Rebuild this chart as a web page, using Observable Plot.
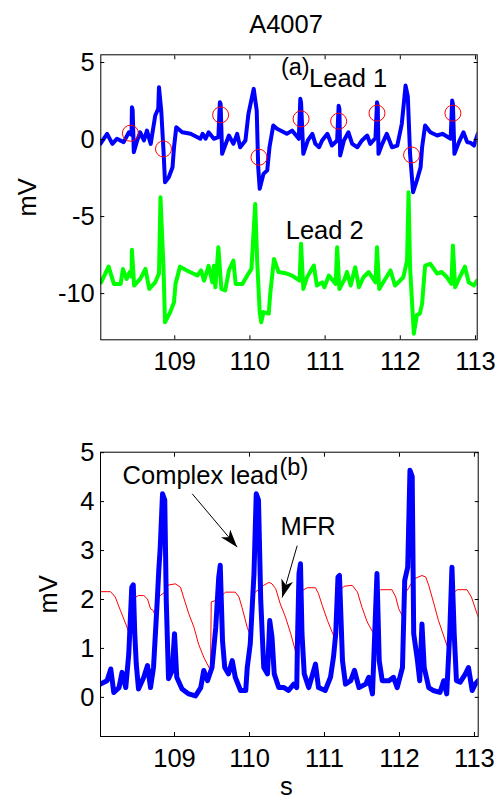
<!DOCTYPE html>
<html><head><meta charset="utf-8">
<script src="https://cdn.jsdelivr.net/npm/d3@7"></script>
<script src="https://cdn.jsdelivr.net/npm/@observablehq/plot@0.6"></script>
<style>
html,body{margin:0;padding:0;background:#fff;}
#chart{width:499px;height:801px;}
#chart svg{display:block;background:#fff;}
</style></head><body><div id="chart"></div>
<script>
// ---------- data ----------
const title = "A4007";
const xLabel = "s";
const yLabel = "mV";
const xTicks = [109, 110, 111, 112, 113];
const yTicksTop = [-10, -5, 0, 5];
const yTicksBottom = [0, 1, 2, 3, 4, 5];

// Lead 1 (blue), [s, mV]
const lead1 = [
[108.01,-0.28],[108.10,0.37],[108.17,-0.28],[108.23,0.05],[108.32,-0.17],[108.39,0.47],[108.425,0.3],[108.43,2.1],[108.44,1.9],[108.455,-0.82],[108.50,-0.06],[108.54,0.47],[108.59,-0.06],[108.63,0.58],[108.68,-0.28],[108.74,1.56],[108.78,2.0],[108.79,3.4],[108.82,1.88],[108.85,-0.71],[108.87,-2.77],[108.92,-2.45],[108.97,-1.8],[108.99,-0.5],[109.02,0.8],[109.10,0.47],[109.21,0.37],[109.34,0.05],[109.37,0.37],[109.41,0.05],[109.45,0.47],[109.52,0.05],[109.58,0.15],[109.60,2.42],[109.61,2.3],[109.63,-0.93],[109.67,-0.39],[109.72,0.26],[109.78,-0.28],[109.83,0.37],[109.87,-0.5],[109.94,-0.06],[109.98,1.67],[110.05,3.29],[110.09,1.88],[110.11,-1.8],[110.13,-3.2],[110.18,-2.23],[110.23,-2.0],[110.26,-0.5],[110.31,0.91],[110.36,0.7],[110.49,0.37],[110.56,0.58],[110.65,0.05],[110.67,2.64],[110.68,2.4],[110.71,-0.93],[110.77,-0.06],[110.83,0.37],[110.87,-0.28],[110.92,-0.5],[110.96,-0.06],[111.03,0.37],[111.09,-0.39],[111.16,-0.06],[111.18,2.2],[111.19,2.0],[111.20,-1.04],[111.25,-0.06],[111.31,0.47],[111.36,-0.28],[111.43,-0.5],[111.49,-0.06],[111.56,0.26],[111.60,-0.28],[111.67,0.1],[111.69,2.42],[111.70,2.2],[111.71,-0.93],[111.76,-0.28],[111.82,0.37],[111.89,-0.5],[111.96,-0.39],[112.02,1.02],[112.05,2.5],[112.07,3.5],[112.10,2.8],[112.13,-0.93],[112.17,-3.42],[112.22,-2.66],[112.27,-1.8],[112.29,-0.5],[112.33,0.91],[112.40,0.47],[112.49,0.26],[112.56,0.37],[112.67,0.05],[112.69,2.53],[112.70,2.3],[112.72,-0.93],[112.78,-0.17],[112.84,0.47],[112.89,-0.17],[112.93,-0.2],[112.98,-0.39],[113.03,0.37]
];

// Lead 2 (green), [s, mV]
const lead2 = [
[108.02,-9.27],[108.12,-8.25],[108.19,-9.37],[108.28,-9.37],[108.31,-8.4],[108.36,-9.05],[108.40,-8.6],[108.425,-8.9],[108.43,-7.16],[108.46,-9.48],[108.54,-9.05],[108.61,-8.4],[108.66,-9.7],[108.74,-9.27],[108.79,-8.7],[108.81,-3.75],[108.85,-8.29],[108.87,-11.86],[108.94,-11.2],[108.99,-10.56],[109.01,-9.37],[109.07,-8.25],[109.16,-8.5],[109.30,-8.83],[109.35,-8.5],[109.39,-9.16],[109.45,-8.2],[109.50,-9.27],[109.52,-8.2],[109.54,-9.59],[109.58,-6.99],[109.62,-9.7],[109.67,-9.8],[109.70,-9.05],[109.72,-8.5],[109.78,-7.86],[109.81,-9.37],[109.90,-9.37],[109.98,-8.7],[110.02,-8.4],[110.07,-4.18],[110.096,-7.86],[110.13,-11.2],[110.15,-11.86],[110.18,-11.2],[110.25,-11.3],[110.27,-10.0],[110.32,-7.75],[110.38,-8.6],[110.49,-8.7],[110.56,-8.83],[110.66,-9.16],[110.68,-6.77],[110.71,-9.7],[110.76,-8.94],[110.85,-8.18],[110.89,-9.48],[110.96,-9.27],[110.99,-9.59],[111.05,-8.83],[111.14,-9.37],[111.16,-6.99],[111.19,-9.7],[111.26,-9.05],[111.29,-8.6],[111.34,-9.48],[111.40,-8.29],[111.45,-9.59],[111.51,-8.94],[111.58,-8.6],[111.67,-9.27],[111.69,-6.99],[111.72,-9.7],[111.80,-9.05],[111.87,-8.5],[111.93,-9.48],[112.04,-8.94],[112.09,-7.86],[112.11,-3.42],[112.13,-8.29],[112.16,-10.9],[112.18,-12.6],[112.22,-11.4],[112.26,-11.3],[112.29,-10.67],[112.33,-8.18],[112.40,-8.07],[112.49,-8.7],[112.55,-8.6],[112.62,-8.94],[112.68,-9.37],[112.70,-6.88],[112.73,-9.59],[112.79,-8.94],[112.86,-8.25],[112.91,-9.27],[112.98,-9.48],[113.02,-9.16]
];

// detected points (red circles) on Lead 1, [s, mV]
const detected = [
[108.41,0.41],[108.85,-0.61],[109.61,1.6],[110.12,-1.15],[110.68,1.34],[111.18,1.19],[111.69,1.71],[112.15,-1.0],[112.70,1.71]
];

// Complex lead (blue), [s, mV]
const complexLead = [
[108.013,0.27],[108.10,0.34],[108.15,0.58],[108.19,0.10],[108.26,0.20],[108.30,0.51],[108.35,0.20],[108.39,0.89],[108.43,2.25],[108.45,2.3],[108.47,1.30],[108.49,0.68],[108.52,0.17],[108.59,0.41],[108.64,0.65],[108.68,0.20],[108.72,0.61],[108.77,1.98],[108.79,2.59],[108.81,3.07],[108.84,4.16],[108.87,4.03],[108.89,1.98],[108.92,0.38],[108.97,0.55],[109.00,1.30],[109.03,0.41],[109.10,0.17],[109.19,0.07],[109.28,0.03],[109.35,0.20],[109.39,0.55],[109.44,0.34],[109.50,0.61],[109.55,1.43],[109.59,2.46],[109.61,2.70],[109.64,1.16],[109.67,0.61],[109.72,0.48],[109.77,0.75],[109.81,0.41],[109.88,0.14],[109.95,0.14],[109.97,0.61],[110.01,1.09],[110.06,2.53],[110.09,4.16],[110.12,4.03],[110.15,1.98],[110.19,0.61],[110.24,0.48],[110.27,1.57],[110.30,1.23],[110.33,0.48],[110.39,0.20],[110.46,0.20],[110.52,0.14],[110.59,0.27],[110.63,0.20],[110.64,1.16],[110.66,2.53],[110.68,2.73],[110.70,1.30],[110.73,0.48],[110.79,0.20],[110.83,0.41],[110.88,0.68],[110.92,0.20],[111.01,0.14],[111.08,0.41],[111.12,0.82],[111.15,1.30],[111.18,2.46],[111.20,2.49],[111.24,0.75],[111.28,0.27],[111.35,0.34],[111.40,0.55],[111.46,0.20],[111.55,0.27],[111.59,0.41],[111.64,0.07],[111.67,1.30],[111.70,2.53],[111.73,0.75],[111.77,0.34],[111.86,0.34],[111.92,0.41],[111.97,0.20],[112.04,0.61],[112.07,2.39],[112.11,2.66],[112.14,4.64],[112.17,4.51],[112.19,1.30],[112.24,0.75],[112.27,0.34],[112.30,1.50],[112.33,0.61],[112.39,0.20],[112.45,0.14],[112.54,0.10],[112.59,0.34],[112.63,0.07],[112.67,1.30],[112.70,2.66],[112.73,1.30],[112.76,0.34],[112.81,0.31],[112.88,0.48],[112.92,0.61],[112.97,0.14],[113.01,0.27],[113.05,0.34]
];

// MFR (red), [s, mV]
const mfr = [
[108.013,2.16],[108.147,2.16],[108.21,2.05],[108.28,1.77],[108.35,1.50],[108.413,1.23],[108.42,1.99],[108.46,2.03],[108.52,2.08],[108.59,2.08],[108.64,2.01],[108.68,1.81],[108.72,1.77],[108.76,1.56],[108.77,2.01],[108.81,2.08],[108.87,2.15],[108.90,2.29],[109.01,2.32],[109.08,2.25],[109.12,2.05],[109.19,1.71],[109.26,1.43],[109.32,1.09],[109.39,0.82],[109.48,0.55],[109.49,1.95],[109.55,1.98],[109.61,2.05],[109.68,2.15],[109.81,2.15],[109.86,2.05],[109.90,1.84],[109.97,1.43],[110.02,1.23],[110.03,2.08],[110.10,2.18],[110.19,2.29],[110.26,2.35],[110.30,2.32],[110.35,2.22],[110.41,1.91],[110.48,1.64],[110.55,1.30],[110.63,0.85],[110.64,2.08],[110.70,2.18],[110.77,2.24],[110.88,2.24],[110.92,2.12],[110.97,1.88],[111.04,1.57],[111.14,1.19],[111.15,2.15],[111.21,2.18],[111.26,2.27],[111.37,2.29],[111.44,2.15],[111.50,1.84],[111.57,1.54],[111.67,1.26],[111.68,2.12],[111.75,2.20],[111.90,2.20],[111.95,2.05],[111.99,1.81],[112.06,1.60],[112.07,2.12],[112.13,2.25],[112.19,2.42],[112.30,2.49],[112.35,2.46],[112.39,2.29],[112.46,1.91],[112.52,1.57],[112.66,0.94],[112.67,2.05],[112.73,2.15],[112.77,2.20],[112.90,2.20],[112.96,2.05],[113.05,1.64]
];

// annotations
const notesTop = [
  {x: 110.412, y: 4.22, text: "(a)", small: true},
  {x: 110.787, y: 3.40, text: "Lead 1", small: false},
  {x: 110.476, y: -6.45, text: "Lead 2", small: false}
];
const notesBottom = [
  {x: 108.307, y: 4.36, text: "Complex lead", small: false},
  {x: 110.40, y: 4.55, text: "(b)", small: true},
  {x: 110.413, y: 3.31, text: "MFR", small: false}
];
const arrows = [
  {x1: 109.236, y1: 4.16, x2: 109.836, y2: 3.07},
  {x1: 110.636, y1: 3.10, x2: 110.436, y2: 2.04}
];

// ---------- layout ----------
const FONT = "'Liberation Sans', Arial, Helvetica, sans-serif";
const FS = 25.5, FS_SMALL = 23.5;
const W = 499;
const mTop = {height: 400, marginTop: 54.3, marginBottom: 60.7, marginLeft: 100.3, marginRight: 22.3};
const mBot = {height: 401, marginTop: 51.7, marginBottom: 65, marginLeft: 100, marginRight: 21.3};
const xDomTop = [108.016, 113.023], yDomTop = [-13, 5.5];
const xDomBot = [108.013, 113.05], yDomBot = [-0.8, 5.01];

function boxAxes(yt) {
  return [
    Plot.frame({stroke: "black", strokeWidth: 1}),
    Plot.axisX({ticks: xTicks, anchor: "bottom", tickSize: -4, fill: "none", label: null}),
    Plot.axisX({ticks: xTicks, anchor: "top", tickSize: -4, fill: "none", label: null}),
    Plot.axisY({ticks: yt, anchor: "left", tickSize: -4, fill: "none", label: null}),
    Plot.axisY({ticks: yt, anchor: "right", tickSize: -4, fill: "none", label: null}),
    Plot.axisX({ticks: xTicks, anchor: "bottom", tickSize: 0, tickPadding: 12, fontSize: FS, fill: "black", label: null, tickFormat: d => String(d)}),
    Plot.axisY({ticks: yt, anchor: "left", tickSize: 0, tickPadding: 6, fontSize: FS, fill: "black", label: null, tickFormat: d => String(d)})
  ];
}
const notes = (arr) => [
  Plot.text(arr.filter(d => !d.small), {x: "x", y: "y", text: "text", textAnchor: "start", lineAnchor: "bottom", fontSize: FS, fill: "black"}),
  Plot.text(arr.filter(d => d.small), {x: "x", y: "y", text: "text", textAnchor: "start", lineAnchor: "bottom", fontSize: FS_SMALL, fill: "black"})
];

const topPlot = Plot.plot({
  width: W, ...mTop,
  style: {fontFamily: FONT, background: "white", color: "black", overflow: "visible"},
  x: {domain: xDomTop}, y: {domain: yDomTop},
  marks: [
    Plot.line(lead1, {x: d => d[0], y: d => d[1], stroke: "#0000ff", strokeWidth: 4, strokeLinejoin: "round", strokeLinecap: "round", clip: true}),
    Plot.line(lead2, {x: d => d[0], y: d => d[1], stroke: "#00ff00", strokeWidth: 4, strokeLinejoin: "round", strokeLinecap: "round", clip: true}),
    Plot.dot(detected, {x: d => d[0], y: d => d[1], r: 8, stroke: "#ff0000", fill: "none", strokeWidth: 1}),
    ...notes(notesTop),
    ...boxAxes(yTicksTop),
    Plot.text([title], {frameAnchor: "top", lineAnchor: "bottom", dy: -22.3, dx: -3, fontSize: FS, fill: "black"}),
    Plot.text([yLabel], {frameAnchor: "left", rotate: -90, lineAnchor: "bottom", textAnchor: "middle", dx: -64.8, fontSize: FS, fill: "black"})
  ]
});

// arrowhead shape (filled dart, tip at origin, pointing up)
const dart = {draw(ctx) { ctx.moveTo(0, 0); ctx.lineTo(-6, 18); ctx.lineTo(0, 13); ctx.lineTo(6, 18); ctx.closePath(); }};
const sx = d3.scaleLinear(xDomBot, [mBot.marginLeft, W - mBot.marginRight]);
const sy = d3.scaleLinear(yDomBot, [mBot.height - mBot.marginBottom, mBot.marginTop]);
const heads = arrows.map(a => ({x: a.x2, y: a.y2,
  angle: Math.atan2(sx(a.x2) - sx(a.x1), -(sy(a.y2) - sy(a.y1))) * 180 / Math.PI}));

const bottomPlot = Plot.plot({
  width: W, ...mBot,
  style: {fontFamily: FONT, background: "white", color: "black", overflow: "visible"},
  x: {domain: xDomBot}, y: {domain: yDomBot},
  marks: [
    Plot.line(mfr, {x: d => d[0], y: d => d[1], stroke: "#ff0000", strokeWidth: 1, clip: true}),
    Plot.line(complexLead, {x: d => d[0], y: d => d[1], stroke: "#0000ff", strokeWidth: 5, strokeLinejoin: "round", strokeLinecap: "round", clip: true}),
    Plot.link(arrows, {x1: "x1", y1: "y1", x2: "x2", y2: "y2", stroke: "black", strokeWidth: 1}),
    Plot.dot(heads, {x: "x", y: "y", rotate: "angle", symbol: dart, fill: "black", stroke: "none"}),
    ...notes(notesBottom),
    ...boxAxes(yTicksBottom),
    Plot.text([yLabel], {frameAnchor: "left", rotate: -90, lineAnchor: "bottom", textAnchor: "middle", dx: -43.3, fontSize: FS, fill: "black"}),
    Plot.text([xLabel], {frameAnchor: "bottom", lineAnchor: "bottom", dy: 58, dx: -3, fontSize: FS, fill: "black"})
  ]
});

const chart = document.getElementById("chart");
chart.append(topPlot, bottomPlot);
</script>
</body></html>
